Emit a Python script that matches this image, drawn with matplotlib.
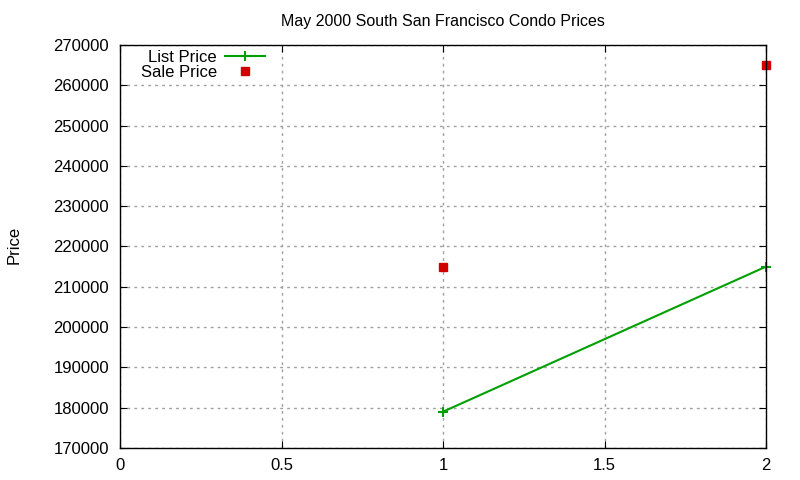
import matplotlib.pyplot as plt

plt.rcParams["font.family"] = ["Liberation Sans", "DejaVu Sans"]

# data
bedrooms = [1, 2]
list_price = [179000, 215000]
sale_price = [215000, 265000]

fig = plt.figure(figsize=(8, 4.8), dpi=100)
ax = fig.add_axes([0.15, 0.0667, 0.8075, 0.8396])

ax.plot(bedrooms, list_price, color="#00a000", lw=1.5, marker="+",
        markersize=7, mew=1.5, label="List Price", clip_on=False)
ax.plot(bedrooms, sale_price, ls="none", color="#d00000", marker="s",
        markersize=6, label="Sale Price", clip_on=False)

ax.set_xlim(0, 2)
ax.set_ylim(170000, 270000)
ax.set_xticks([0, 0.5, 1, 1.5, 2])
ax.set_xticklabels(["0", "0.5", "1", "1.5", "2"])
ax.set_yticks(range(170000, 270001, 10000))
ax.tick_params(direction="in", top=True, right=True, labelsize=12, length=5)
ax.tick_params(axis="x", pad=7)
ax.tick_params(axis="y", pad=8)
ax.grid(True, color="#a0a0a0", ls=(0, (2, 3)), lw=1)
for s in ax.spines.values():
    s.set_linewidth(1)

ax.set_title("May 2000 South San Francisco Condo Prices", fontsize=11.5, pad=14)
fig.text(0.008, 0.49, "Price", rotation=90, fontsize=12, va="center")

leg = ax.legend(loc="upper left", bbox_to_anchor=(141 / 800, 1 - 50 / 480),
                bbox_transform=fig.transFigure, frameon=False,
                markerfirst=False, fontsize=12, handlelength=2.4,
                handletextpad=0.5, labelspacing=0.0, borderpad=0,
                borderaxespad=0, numpoints=1)
for t in leg.get_texts():
    t.set_ha("right")

fig.savefig("out.png", dpi=100)
